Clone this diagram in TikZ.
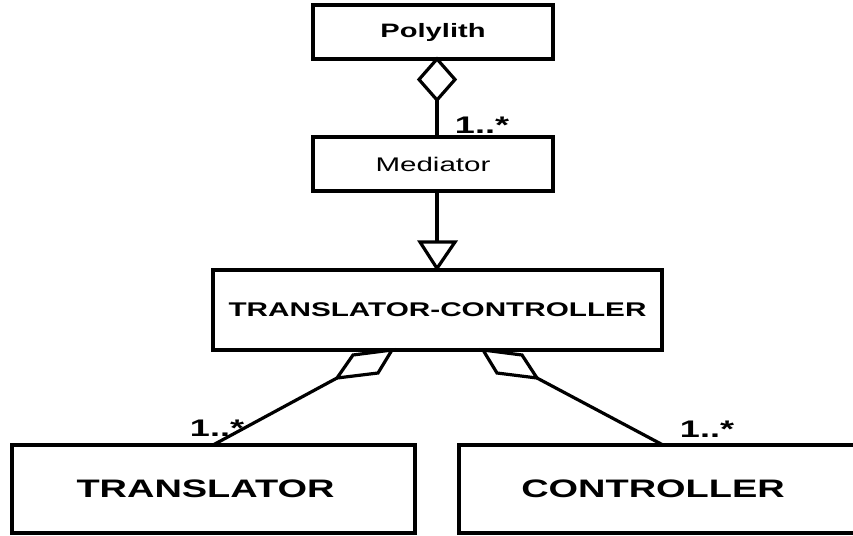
\documentclass[tikz,border=0pt]{standalone}
\usepackage{fontspec}
\setmainfont{Liberation Sans}
\newcommand{\sx}[1]{\scalebox{1.5}[1]{#1}}
\tikzset{
  box/.style={draw=black, line width=3.2pt, rectangle, inner sep=0pt, fill=white},
  conn/.style={draw=black, line width=3.2pt},
  mult/.style={inner sep=0pt, font=\fontsize{24}{28}\selectfont\bfseries},
}
\begin{document}
\begin{tikzpicture}[x=1pt,y=-1pt]
\useasboundingbox (0,0) rectangle (853,535);
\clip (0,0) rectangle (853,535);
% boxes
\node[box, minimum width=240pt, minimum height=54pt, font=\fontsize{19.4}{22}\selectfont\bfseries] (poly) at (433,32) {\sx{Polylith}};
\node[box, minimum width=240pt, minimum height=54pt, font=\fontsize{19.7}{22}\selectfont] (med) at (433,164) {\sx{Mediator}};
\node[box, minimum width=449pt, minimum height=80pt, font=\fontsize{19.8}{22}\selectfont\bfseries] (tc) at (437.5,310) {\sx{TRANSLATOR-CONTROLLER}};
\node[box, minimum width=403pt, minimum height=88pt, font=\fontsize{25.3}{28}\selectfont\bfseries] (tr) at (213.5,489) {\hspace*{-16pt}\sx{TRANSLATOR}};
\node[box, minimum width=420pt, minimum height=88pt, font=\fontsize{25.3}{28}\selectfont\bfseries] (ctl) at (669,489) {\hspace*{-32pt}\sx{CONTROLLER}};
% aggregation Polylith - Mediator
\coordinate (d1t) at (437,59);
\coordinate (d1b) at (437,100);
\draw[conn, line join=miter] (d1t) -- (455,79.5) -- (d1b) -- (419,79.5) -- cycle;
\draw[conn] (d1b) -- (med.north -| d1b);
% generalization Mediator - TC
\coordinate (g1) at (437,242);
\draw[conn] (med.south -| g1) -- (g1);
\draw[conn, line join=miter] (420,242) -- (455,242) -- (tc.north -| g1) -- cycle;
% aggregation TC - TRANSLATOR
\coordinate (l1) at (392,350);
\coordinate (l2) at (337,378);
\draw[conn, line join=miter] (l1) -- (353,355) -- (l2) -- (378,373) -- cycle;
\coordinate (trtop) at (213,445);
\draw[conn] (l2) -- (trtop);
% aggregation TC - CONTROLLER
\coordinate (r1) at (483,350);
\coordinate (r2) at (537,378);
\draw[conn, line join=miter] (r1) -- (522,355) -- (r2) -- (497,373) -- cycle;
\coordinate (ctop) at (663,445);
\draw[conn] (r2) -- (ctop);
% multiplicities
\node[mult] (m1) at (482,125) {\sx{1..*}};
\node[mult] (m2) at (217,428) {\sx{1..*}};
\node[mult] (m3) at (707,429) {\sx{1..*}};
\end{tikzpicture}
\end{document}
